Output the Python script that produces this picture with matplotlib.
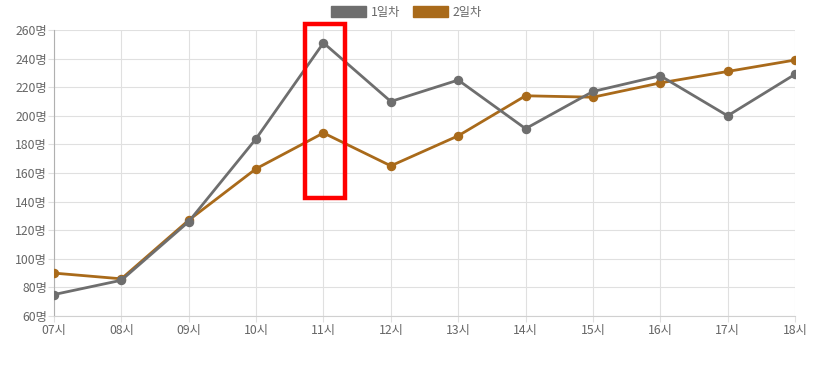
import matplotlib
matplotlib.use("Agg")
import matplotlib.pyplot as plt
from matplotlib.patches import Rectangle, Patch

plt.rcParams['font.family'] = ['Noto Sans CJK KR', 'DejaVu Sans']

hours = ["07시", "08시", "09시", "10시", "11시", "12시", "13시", "14시", "15시", "16시", "17시", "18시"]
day1 = [75, 85, 126, 184, 251, 210, 225, 191, 217, 228, 200, 229]
day2 = [90, 86, 127, 163, 188, 165, 186, 214, 213, 223, 231, 239]
yticks = [60, 80, 100, 120, 140, 160, 180, 200, 220, 240, 260]
labels = ["1일차", "2일차"]
colors = ["#6e6e6e", "#a96a1a"]

W, H = 813, 365
fig = plt.figure(figsize=(W / 100, H / 100), dpi=100)
ax = fig.add_axes([54 / W, (H - 316) / H, (795 - 54) / W, (316 - 30) / H])

x = list(range(len(hours)))
for vals, lab, c, z in zip([day1, day2], labels, colors, [4, 3]):
    ax.plot(x, vals, color=c, lw=2.0, marker='o', ms=5.8, mfc=c, mec=c, label=lab, zorder=z)

ax.set_xlim(0, len(hours) - 1)
ax.set_ylim(60, 260)
ax.set_xticks(x)
ax.set_xticklabels(hours)
ax.set_yticks(yticks)
ax.set_yticklabels([f"{v}명" for v in yticks])
ax.grid(True, color="#e0e0e0", lw=0.8)
ax.set_axisbelow(True)
for s in ['top', 'right']:
    ax.spines[s].set_visible(False)
ax.spines['left'].set_color('#b0b0b0')
ax.spines['bottom'].set_color('#d0d0d0')
ax.tick_params(axis='both', colors='#e0e0e0', labelcolor='#666666', labelsize=8.8, length=4, width=0.8)
ax.tick_params(axis='x', pad=2)
ax.tick_params(axis='y', pad=1)

# highlight box around 11시
idx = hours.index("11시")
rect = Rectangle((idx - 0.28, 142.5), 0.6, 121.5, fill=False, edgecolor='#ff0000', lw=3.2, zorder=5, clip_on=False)
ax.add_patch(rect)

handles = [Patch(facecolor=c, edgecolor=c) for c in colors]
fig.legend(handles, labels, loc='upper center', bbox_to_anchor=(0.5, 1.015), ncol=2, frameon=False,
           handlelength=2.9, handleheight=1.0, columnspacing=1.0, handletextpad=0.4,
           fontsize=8.8, labelcolor='#666666')

fig.savefig("out.png", dpi=100)
